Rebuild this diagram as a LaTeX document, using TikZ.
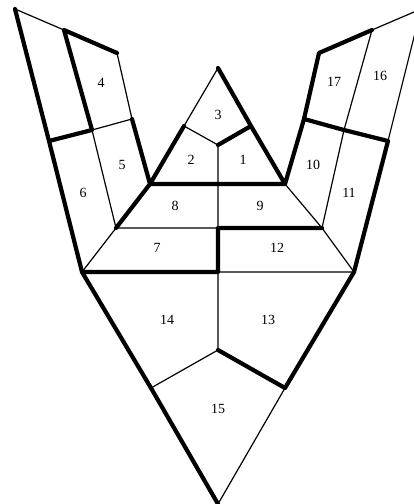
\documentclass[tikz,border=0pt]{standalone}
\usepackage{fontspec}
\setmainfont{Liberation Serif}
\tikzset{
  thinedge/.style={line width=1.2pt,black,line cap=round},
  thickedge/.style={line width=4.2pt,black,line cap=round,line join=round},
  lab/.style={inner sep=0pt,font=\fontsize{14}{16}\selectfont}
}
\begin{document}
\begin{tikzpicture}[x=1pt,y=-1pt]
\useasboundingbox (0,0) rectangle (414,504);
\clip (0,0) rectangle (414,504);
\coordinate (A) at (15,9);
\coordinate (B) at (64,30);
\coordinate (C) at (117,53);
\coordinate (D) at (132,119);
\coordinate (E) at (92,130);
\coordinate (F) at (49,141);
\coordinate (G) at (82,272);
\coordinate (H) at (150,184);
\coordinate (I) at (116,228);
\coordinate (J) at (184,126);
\coordinate (K) at (218,68);
\coordinate (L) at (218,145);
\coordinate (M) at (251,126);
\coordinate (N) at (285,184);
\coordinate (O) at (218,184);
\coordinate (P) at (218,228);
\coordinate (Q) at (322,228);
\coordinate (R) at (354,272);
\coordinate (S) at (218,272);
\coordinate (T) at (218,350);
\coordinate (U) at (285,388);
\coordinate (V) at (151,388);
\coordinate (W) at (218,504);
\coordinate (A2) at (421,9);
\coordinate (B2) at (372,30);
\coordinate (C2) at (319,53);
\coordinate (D2) at (304,119);
\coordinate (E2) at (344,130);
\coordinate (F2) at (388,141);
% thin edges
\draw[thinedge] (A)--(B) (C)--(D) (D)--(E) (E)--(I) (I)--(G) (I)--(P) (K)--(J) (J)--(L) (L)--(O)--(P) (S)--(R) (S)--(T) (T)--(V) (U)--(W) (A2)--(B2) (A2)--(F2) (B2)--(E2)--(Q) (N)--(Q)--(R);
% thick edges
\draw[thickedge] (A)--(F)--(G)--(V)--(W) (B)--(E) (B)--(C) (D)--(H) (E)--(F) (H)--(I) (G)--(S) (H)--(N) (J)--(H) (K)--(M)--(N) (L)--(M) (Q)--(P)--(S) (T)--(U)--(R) (B2)--(C2)--(D2)--(N) (D2)--(E2)--(F2)--(R);
% labels
\node[lab] (n1) at (243,160) {1};
\node[lab] (n2) at (191,160) {2};
\node[lab] (n3) at (218,115) {3};
\node[lab] (n4) at (101,83) {4};
\node[lab] (n5) at (122,165) {5};
\node[lab] (n6) at (83,193) {6};
\node[lab] (n7) at (157,248) {7};
\node[lab] (n8) at (175,206) {8};
\node[lab] (n9) at (260,206) {9};
\node[lab] (n10) at (313,165) {10};
\node[lab] (n11) at (349,193) {11};
\node[lab] (n12) at (277,248) {12};
\node[lab] (n13) at (268,320) {13};
\node[lab] (n14) at (167,320) {14};
\node[lab] (n15) at (218,409) {15};
\node[lab] (n16) at (380,76) {16};
\node[lab] (n17) at (334,82) {17};
\end{tikzpicture}
\end{document}
